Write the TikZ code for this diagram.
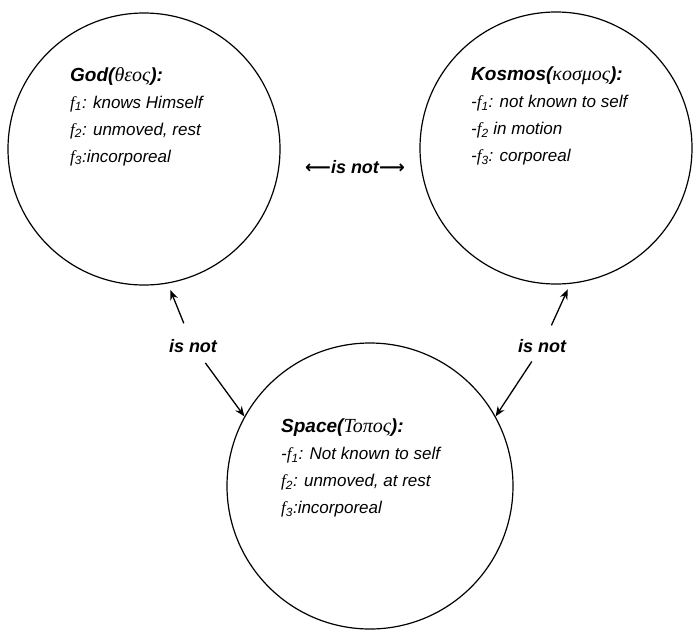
\documentclass[tikz,border=0pt]{standalone}
\usepackage{fontspec}
\setmainfont{Liberation Sans}
\newfontfamily\greekfont{Liberation Serif}
\newfontfamily\arrowfont{DejaVu Sans}
\usetikzlibrary{calc,positioning,arrows.meta}

\newcommand{\fn}[1]{{\greekfont\itshape f}\textsubscript{#1}}
\newcommand{\head}[2]{{\fontsize{19}{27}\selectfont\bfseries #1({\fontsize{20}{27}\selectfont\greekfont\mdseries #2}):}}

\begin{document}
\begin{tikzpicture}[x=1pt, y=-1pt,
    arrowstyle/.style={draw, -{Stealth[length=10pt, width=8pt]}, line width=1.3pt},
    world/.style={circle, draw, line width=1.2pt, inner sep=0pt},
    attributes/.style={align=left, anchor=north west, inner sep=0pt,
        font=\fontsize{17}{27}\selectfont\itshape},
    relation/.style={font=\fontsize{18}{20}\selectfont\bfseries\itshape, inner sep=2pt}
]
\useasboundingbox (0,0) rectangle (694,630);

% the three circles
\node (God) [world, minimum size=272pt] at (144,149) {};
\node (Kosmos) [world, minimum size=272pt] at (556,148) {};
\node (Space) [world, minimum size=286pt] at (370,486) {};

% what each one is
\node (GodText) [attributes] at (70,67) {\head{God}{θεος}\\
  \fn{1}: knows Himself\\
  \fn{2}: unmoved, rest\\
  \fn{3}:incorporeal};
\node (KosmosText) [attributes] at (471,67) {\head{Kosmos}{κοσμος}\\
  -\fn{1}: not known to self\\
  -\fn{2} in motion\\
  -\fn{3}: corporeal};
\node (SpaceText) [attributes] at (281,419) {\head{Space}{Τοπος}\\
  -\fn{1}: Not known to self\\
  \fn{2}: unmoved, at rest\\
  \fn{3}:incorporeal};

% relations
\node (isnotTop) [relation] at (355,167) {{\arrowfont\upshape ⟵}is not{\arrowfont\upshape ⟶}};
\node (isnotLeft) [relation] at (193,346) {is not};
\node (isnotRight) [relation] at (542,346) {is not};

\draw [arrowstyle, shorten <=15pt, shorten >=7pt] (isnotLeft) -- (God.-80);
\draw [arrowstyle, shorten <=10pt] (isnotLeft) -- (Space.151);
\draw [arrowstyle, shorten <=13pt, shorten >=6pt] (isnotRight) -- (Kosmos.-84);
\draw [arrowstyle, shorten <=8pt] (isnotRight) -- (Space.29);
\end{tikzpicture}
\end{document}
